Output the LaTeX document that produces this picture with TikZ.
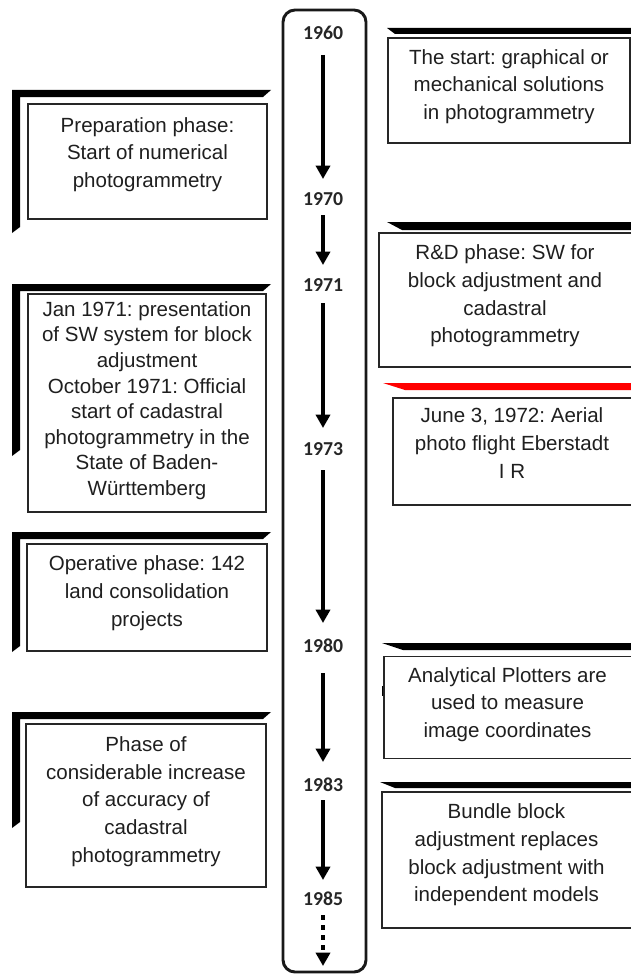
\documentclass[tikz,border=0pt]{standalone}
\usepackage{fontspec}
\setmainfont{Liberation Sans}
\newfontfamily\yearfont{Carlito}
\usetikzlibrary{arrows.meta,calc}
\begin{document}
\frenchspacing
\begin{tikzpicture}[x=0.75pt,y=-0.75pt,
  frame/.style={draw=black!85,line width=1pt,inner sep=0pt,fill=white},
  txt/.style={align=center,inner sep=0pt,text=black!88,font=\fontsize{15.4}{20.8}\selectfont},
  year/.style={inner sep=0pt,text=black!85,font=\yearfont\bfseries\fontsize{14.8}{17}\selectfont},
  arr/.style={line width=2.5pt,-{Triangle[width=10.5pt,length=10pt]}},
  shade/.style={fill=black}
]
\useasboundingbox (0,0) rectangle (631,974);
\clip (0,0) rectangle (631,974);
\fill[white] (0,0) rectangle (631,974);

% central time axis
\node[draw=black!90,line width=2.2pt,rounded corners=9pt,minimum width={83*0.75pt},minimum height={962*0.75pt},inner sep=0pt] (axis) at (324.5,491) {};

\node[year] (y1960) at (323,33) {1960};
\node[year] (y1970) at (323,199) {1970};
\node[year] (y1971) at (323,285) {1971};
\node[year] (y1973) at (323,449) {1973};
\node[year] (y1980) at (323,646) {1980};
\node[year] (y1983) at (323,785) {1983};
\node[year] (y1985) at (323,899) {1985};
\coordinate (yend) at (323,966);

\draw[arr] ($(y1960)+(0,22)$) -- ($(y1970)+(0,-20)$);
\draw[arr] ($(y1970)+(0,16)$) -- ($(y1971)+(0,-20)$);
\draw[arr] ($(y1971)+(0,18)$) -- ($(y1973)+(0,-21)$);
\draw[arr] ($(y1973)+(0,21)$) -- ($(y1980)+(0,-23)$);
\draw[arr] ($(y1980)+(0,27)$) -- ($(y1983)+(0,-23)$);
\draw[arr] ($(y1983)+(0,15)$) -- ($(y1985)+(0,-19)$);
\draw[arr,dash pattern=on 3.75pt off 3.75pt] ($(y1985)+(0,16)$) -- (yend);

% left shadows
\fill[shade] (12,90) -- (271,90) -- (263,97) -- (20,97) -- (20,227) -- (12,233) -- cycle;
\fill[shade] (12,284) -- (271,284) -- (263,291) -- (20,291) -- (20,450) -- (12,456) -- cycle;
\fill[shade] (12,532) -- (271,532) -- (263,539) -- (20,539) -- (20,646) -- (12,652) -- cycle;
\fill[shade] (12,712) -- (271,712) -- (263,719) -- (20,719) -- (20,822) -- (12,828) -- cycle;

% right shadows
\fill[shade] (387,28) -- (632,28) -- (632,34) -- (395,34) -- cycle;
\fill[shade] (387,222) -- (632,222) -- (632,230) -- (402,230) -- cycle;
\fill[red] (383,383) -- (632,383) -- (632,390) -- (405,390) -- cycle;
\fill[shade] (382,643) -- (632,643) -- (632,650) -- (403,650) -- cycle;
\fill[shade] (380,782) -- (632,782) -- (632,788) -- (395,788) -- cycle;
\fill[shade] (382.2,686) rectangle (384.2,696);
\fill[shade] (627,881) rectangle (632,902);

% left boxes
\node[frame,minimum width={239*0.75pt},minimum height={115*0.75pt}] (b1) at (147.5,161.5) {};
\node[txt] (t1) at (147.5,154.5) {Preparation phase:\\Start of numerical\\photogrammetry};

\node[frame,minimum width={238*0.75pt},minimum height={218*0.75pt}] (b2) at (147,403) {};
\node[txt,font=\fontsize{15.4}{19.2}\selectfont] (t2) at (147,400.5) {Jan 1971: presentation\\of SW system for block\\adjustment\\October 1971: Official\\start of cadastral\\photogrammetry in the\\State of Baden-\\Württemberg};

\node[frame,minimum width={240*0.75pt},minimum height={107*0.75pt}] (b3) at (147,597.5) {};
\node[txt] (t3) at (147,593) {Operative phase: 142\\land consolidation\\projects};

\node[frame,minimum width={240*0.75pt},minimum height={163*0.75pt}] (b4) at (146,805.5) {};
\node[txt] (t4) at (146,801.5) {Phase of\\considerable increase\\of accuracy of\\cadastral\\photogrammetry};

% right boxes
\node[frame,minimum width={242*0.75pt},minimum height={105*0.75pt}] (r1) at (509,90.5) {};
\node[txt] (s1) at (509,86.5) {The start: graphical or\\mechanical solutions\\in photogrammetry};

\node[frame,minimum width={255*0.75pt},minimum height={134*0.75pt}] (r2) at (506.5,300) {};
\node[txt] (s2) at (505,296) {R\&D phase: SW for\\block adjustment and\\cadastral\\photogrammetry};

\node[frame,minimum width={241*0.75pt},minimum height={107*0.75pt}] (r3) at (513.5,451.5) {};
\node[txt] (s3) at (512,443) {June 3, 1972: Aerial\\photo flight Eberstadt\\I R};

\node[frame,minimum width={250*0.75pt},minimum height={102*0.75pt}] (r4) at (509,707.5) {};
\node[txt] (s4) at (507.5,704.5) {Analytical Plotters are\\used to measure\\image coordinates};

\node[frame,minimum width={252*0.75pt},minimum height={136*0.75pt}] (r5) at (508,860) {};
\node[txt] (s5) at (506.5,855) {Bundle block\\adjustment replaces\\block adjustment with\\independent models};
\end{tikzpicture}
\end{document}
